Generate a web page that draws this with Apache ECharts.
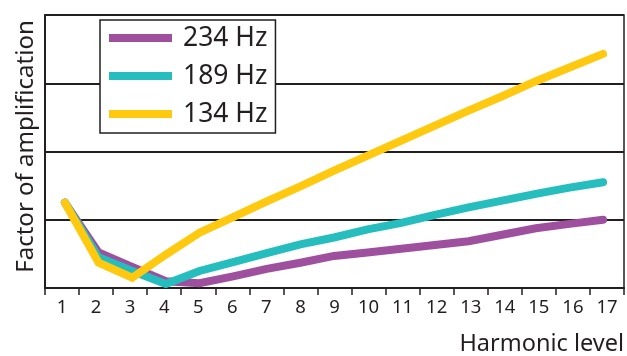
<!DOCTYPE html>
<html>
<head>
<meta charset="utf-8">
<script src="https://cdn.jsdelivr.net/npm/echarts@6/dist/echarts.min.js"></script>
<style>
  html, body { margin: 0; padding: 0; background: #ffffff; }
  #chart { width: 627px; height: 356px; }
</style>
</head>
<body>
<div id="chart"></div>
<script>
// Harmonic levels (x) and tick labels
const harmonics = [1, 2, 3, 4, 5, 6, 7, 8, 9, 10, 11, 12, 13, 14, 15, 16, 17];
const tickLabels = ['1', '2', '3', '4', '5', '6', '7', '8', '9', '10', '11', '12', '13', '14', '15', '16', '17'];

// Factor of amplification (in gridline units)
const hz234 = [1.25, 0.52, 0.31, 0.10, 0.07, 0.17, 0.28, 0.37, 0.47, 0.52, 0.575, 0.63, 0.685, 0.78, 0.875, 0.94, 1.00];
const hz189 = [1.25, 0.45, 0.25, 0.06, 0.25, 0.38, 0.51, 0.64, 0.74, 0.86, 0.955, 1.07, 1.18, 1.28, 1.38, 1.47, 1.55];
const hz134 = [1.25, 0.37, 0.15, 0.49, 0.81, 1.04, 1.27, 1.49, 1.72, 1.94, 2.16, 2.38, 2.60, 2.81, 3.03, 3.23, 3.43];

const seriesNames = ['234 Hz', '189 Hz', '134 Hz'];
const seriesValues = [hz234, hz189, hz134];
const colors = ['#9e509f', '#25bdbd', '#fec90f'];

const ink = '#231f20';

const chart = echarts.init(document.getElementById('chart'), null, { renderer: 'canvas' });

const option = {
  animation: false,
  color: colors,
  grid: {
    left: 45, right: 1, top: 15, height: 273,
    show: true, borderColor: ink, borderWidth: 1.5, backgroundColor: 'transparent'
  },
  legend: {
    orient: 'vertical',
    left: 100, top: 20,
    padding: [3, 8, 4, 9],
    itemGap: 8,
    itemWidth: 63, itemHeight: 8,
    icon: 'rect',
    backgroundColor: '#ffffff',
    borderColor: ink, borderWidth: 1.5, borderRadius: 0,
    data: seriesNames,
    textStyle: {
      fontFamily: 'Noto Sans', fontSize: 26.5, color: ink, lineHeight: 30,
      padding: [0, 0, 0, 6]
    }
  },
  xAxis: [
    {
      type: 'category',
      data: tickLabels,
      boundaryGap: true,
      name: 'Harmonic level',
      nameLocation: 'end',
      nameGap: 0,
      nameTextStyle: {
        fontFamily: 'Noto Sans', fontSize: 23.5, color: ink,
        align: 'right', verticalAlign: 'top', padding: [44, 0, 0, 0]
      },
      axisLine: { show: true, lineStyle: { color: ink, width: 2 } },
      axisTick: { show: true, alignWithLabel: false, length: 7, lineStyle: { color: ink, width: 1.5 } },
      axisLabel: {
        fontFamily: 'Noto Sans', fontSize: 18.5, color: ink, margin: 10
      },
      splitLine: { show: false }
    },
    {
      type: 'value',
      min: 0.407, max: 17.622,
      show: false
    }
  ],
  yAxis: {
    type: 'value',
    min: 0, max: 4, interval: 1,
    name: 'Factor of amplification',
    nameLocation: 'middle',
    nameGap: 7,
    nameTextStyle: { fontFamily: 'Noto Sans', fontSize: 24, color: ink, padding: [0, 0, 0, 10] },
    axisLine: { show: true, lineStyle: { color: ink, width: 2 } },
    axisTick: { show: false },
    axisLabel: { show: false },
    splitLine: { show: true, lineStyle: { color: ink, width: 2 } }
  },
  series: seriesNames.map((name, i) => ({
    name: name,
    type: 'line',
    xAxisIndex: 1,
    data: harmonics.map((h, j) => [h, seriesValues[i][j]]),
    showSymbol: false,
    symbol: 'none',
    color: colors[i],
    itemStyle: { color: colors[i] },
    lineStyle: { color: colors[i], width: 8, cap: 'round', join: 'miter' },
    z: 2 + i
  }))
};

chart.setOption(option);
</script>
</body>
</html>
